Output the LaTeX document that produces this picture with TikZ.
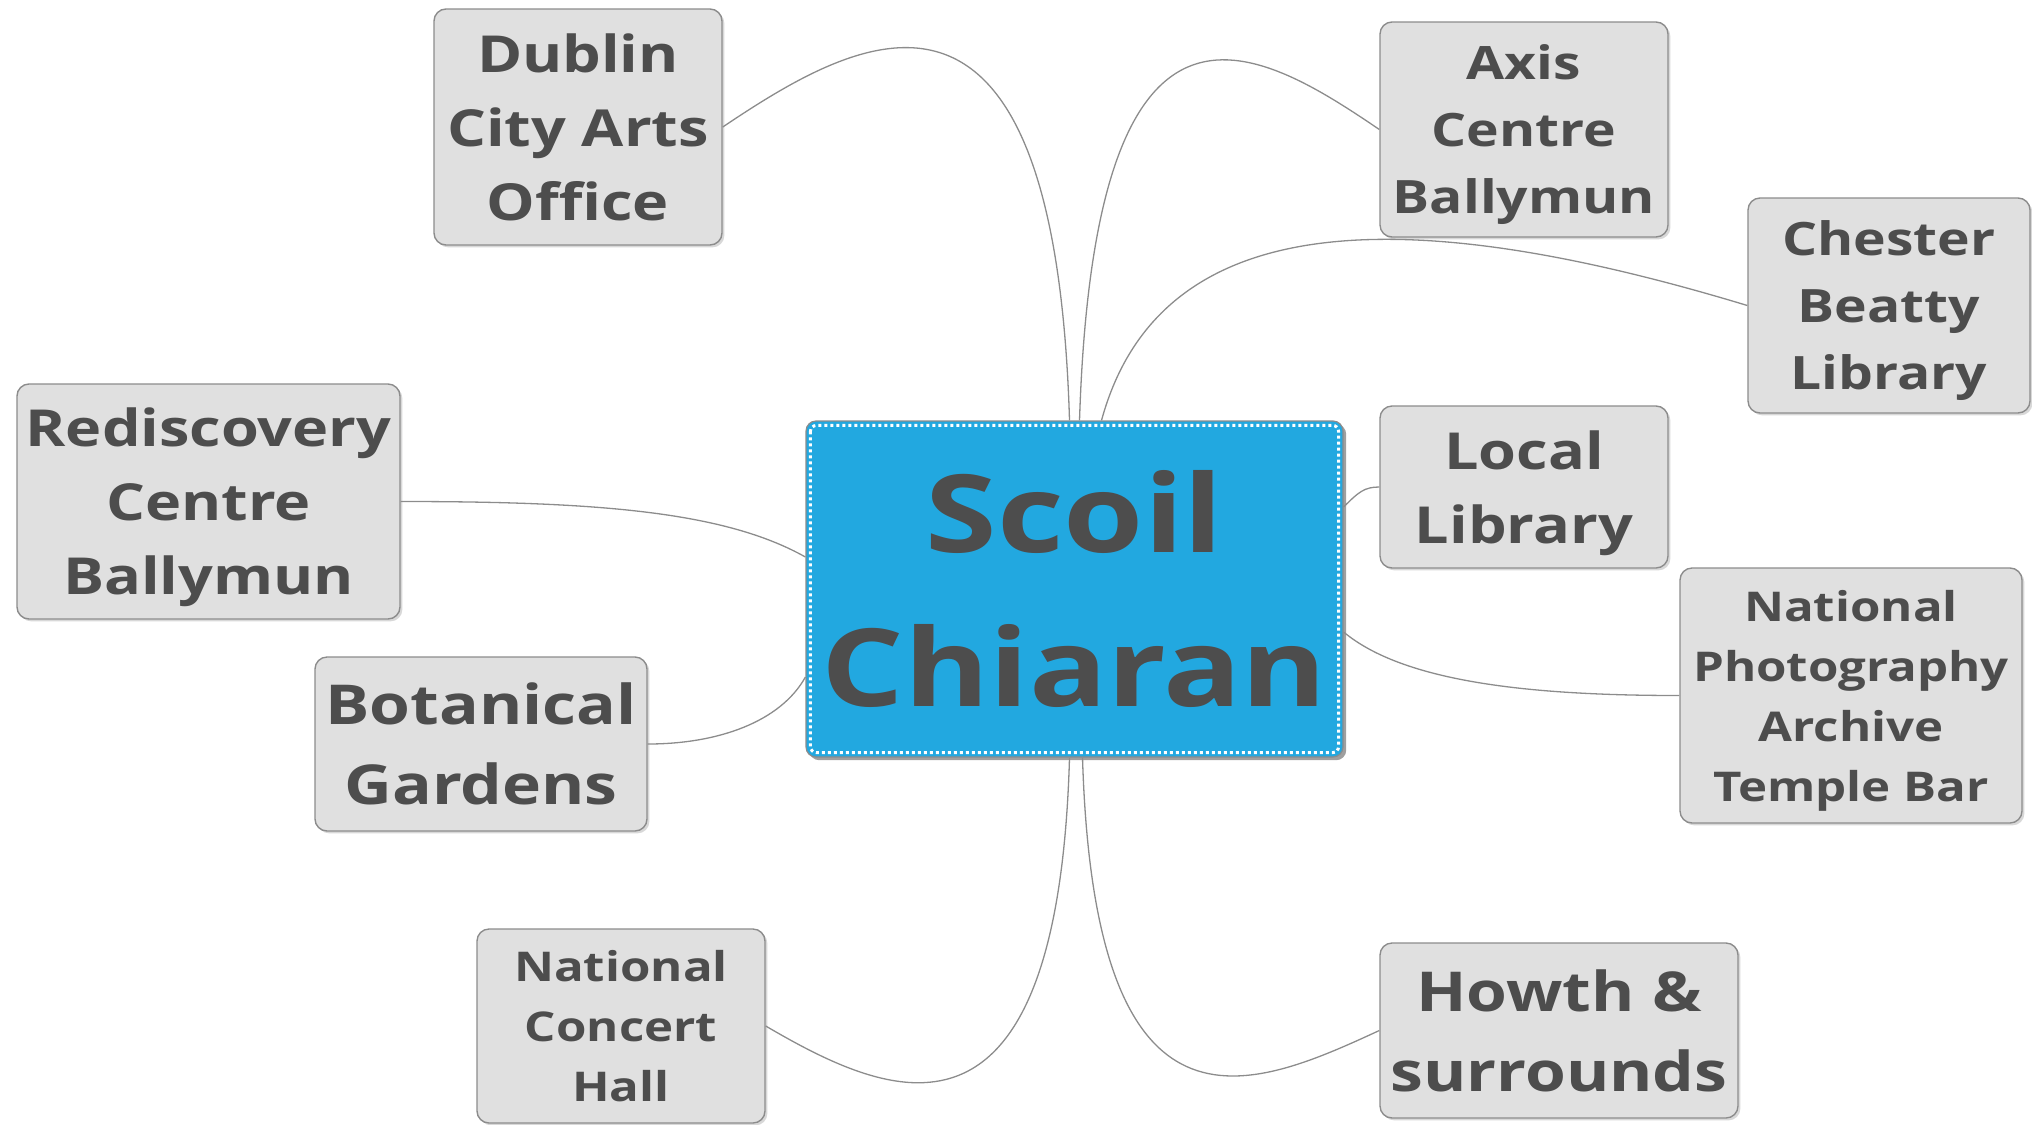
\documentclass[tikz,border=0pt]{standalone}
\usepackage{fontspec}
\setmainfont{Open Sans}[FakeStretch=1.2]
\usetikzlibrary{calc}
\usetikzlibrary{shadows}

\definecolor{topicgray}{HTML}{E0E0E0}
\definecolor{edgegray}{HTML}{8C8C8C}
\definecolor{inkgray}{HTML}{4D4D4D}
\definecolor{scoilblue}{HTML}{22A8E0}

\begin{document}
\begin{tikzpicture}[x=0.5pt,y=-0.5pt,
    topic/.style={draw=edgegray, fill=topicgray, line width=0.7pt, rounded corners=6pt,
        inner sep=0pt, align=center, text=inkgray, text depth=0pt,
        drop shadow={shadow xshift=1.2pt, shadow yshift=-1.2pt, fill=black!30}},
    link/.style={draw=edgegray, line width=0.65pt},
    fsmall/.style={font=\bfseries\fontsize{20.5pt}{30pt}\selectfont},
    fmid/.style={font=\bfseries\fontsize{23pt}{33.5pt}\selectfont},
    fbig/.style={font=\bfseries\fontsize{25.5pt}{37pt}\selectfont},
    fhuge/.style={font=\bfseries\fontsize{27.5pt}{40pt}\selectfont}]
    \useasboundingbox (0,0) rectangle (2032,1124);

    % Central topic
    \node[draw=edgegray, fill=scoilblue, line width=0.6pt, rounded corners=5pt, inner sep=0pt,
        align=center, text=inkgray, minimum width=268.5pt, minimum height=168pt,
        font=\bfseries\fontsize{54pt}{77pt}\selectfont,
        drop shadow={shadow xshift=1.6pt, shadow yshift=-1.6pt, fill=black!75}]
        (scoil) at (1074.5,589) {Scoil\\Chiaran};
    \draw[white, line width=1.5pt, dash pattern=on 1.5pt off 1.5pt, rounded corners=3pt]
        ($(scoil.north west)+(5,5)$) rectangle ($(scoil.south east)+(-5,-5)$);

    % Sub topics
    \node[topic, fbig, minimum width=144pt, minimum height=118pt] (dublin) at (578,127) {Dublin\\City Arts\\Office};
    \node[topic, fmid, minimum width=144pt, minimum height=107.5pt] (axis) at (1524,129.5) {Axis\\Centre\\Ballymun};
    \node[topic, fmid, minimum width=141pt, minimum height=107.5pt] (chester) at (1889,305.5) {Chester\\Beatty\\Library};
    \node[topic, fbig, minimum width=144pt, minimum height=81pt] (local) at (1524,487) {Local\\Library};
    \node[topic, fsmall, minimum width=171pt, minimum height=127.5pt] (npa) at (1851,695.5) {National\\Photography\\Archive\\Temple Bar};
    \node[topic, fhuge, minimum width=179pt, minimum height=87.5pt] (howth) at (1559,1030.5) {Howth \&\\surrounds};
    \node[topic, fsmall, minimum width=144pt, minimum height=97pt] (nch) at (621,1026) {National\\Concert\\Hall};
    \node[topic, fhuge, minimum width=166pt, minimum height=87pt] (botanic) at (481,744) {Botanical\\Gardens};
    \node[topic, fbig, minimum width=191.5pt, minimum height=117.5pt] (redisc) at (208.5,501.5) {Rediscovery\\Centre\\Ballymun};

    % Branches, top side
    \draw[link] ($(scoil.north)+(-5,0)$) .. controls +(-15,-500) and +(133,-89) .. (dublin.east);
    \draw[link] ($(scoil.north)+(5,0)$) .. controls +(15,-470) and +(-125,-85) .. (axis.west);
    \draw[link] ($(scoil.north)+(27,0)$) .. controls +(60,-220) and +(-330,-100) .. (chester.west);
    % right side
    \draw[link] ($(scoil.east)+(0,-82)$) .. controls +(15,-15) and +(-15,0) .. (local.west);
    \draw[link] ($(scoil.east)+(0,43)$) .. controls +(60,50) and +(-150,0) .. (npa.west);
    % bottom side
    \draw[link] ($(scoil.south)+(-5,0)$) .. controls +(-12,420) and +(120,70) .. (nch.east);
    \draw[link] ($(scoil.south)+(8,0)$) .. controls +(12,400) and +(-130,60) .. (howth.west);
    % left side
    \draw[link] ($(scoil.west)+(0,-32)$) .. controls +(-80,-45) and +(200,0) .. (redisc.east);
    \draw[link] ($(scoil.west)+(0,88)$) .. controls +(-25,45) and +(70,0) .. (botanic.east);
\end{tikzpicture}
\end{document}
